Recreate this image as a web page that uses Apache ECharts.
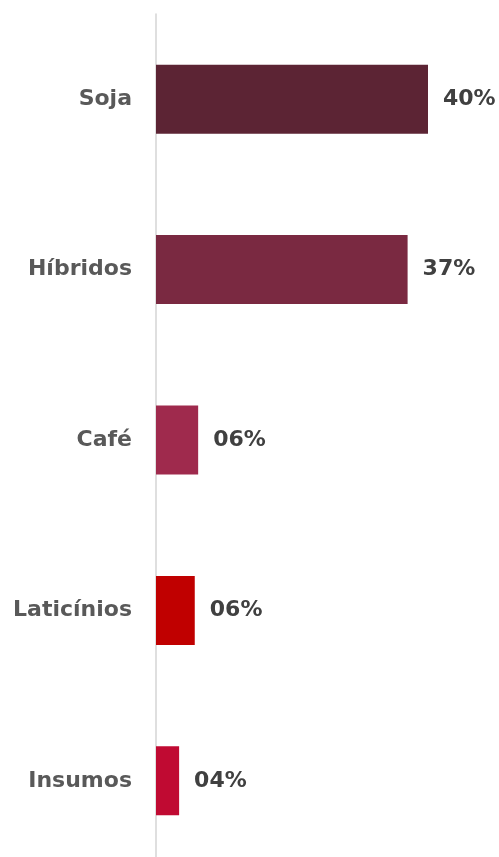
<!DOCTYPE html>
<html><head><meta charset="utf-8">
<script src="https://cdn.jsdelivr.net/npm/echarts@6/dist/echarts.min.js"></script>
<style>html,body{margin:0;padding:0;background:#fff}#c{width:499px;height:857px}</style>
</head><body><div id="c"></div>
<script>
const categories = ['Soja', 'Híbridos', 'Café', 'Laticínios', 'Insumos'];
const values = [40, 37, 6.2, 5.7, 3.4];
const valueLabels = ['40%', '37%', '06%', '06%', '04%'];
const colors = ['#5c2434', '#7a2941', '#9f2a4d', '#c00000', '#c00a32'];

const chart = echarts.init(document.getElementById('c'), null, {renderer: 'canvas'});
chart.setOption({
  animation: false,
  grid: {left: 156, top: 14, width: 340, height: 852, containLabel: false, outerBoundsMode: 'none'},
  xAxis: {type: 'value', min: 0, max: 50, show: false},
  yAxis: {
    type: 'category', data: categories, inverse: true,
    axisLine: {show: true, lineStyle: {color: '#d4d4d4', width: 1.5}},
    axisTick: {show: false},
    axisLabel: {margin: 24, color: '#595959', fontFamily: 'DejaVu Sans', fontWeight: 'bold', fontSize: 22}
  },
  series: [{
    type: 'bar', barWidth: 69,
    data: values.map((v, i) => ({value: v, itemStyle: {color: colors[i]}})),
    label: {
      show: true, position: 'right', distance: 15,
      formatter: p => valueLabels[p.dataIndex],
      color: '#404040', fontFamily: 'DejaVu Sans', fontWeight: 'bold', fontSize: 22
    }
  }]
});
</script></body></html>
